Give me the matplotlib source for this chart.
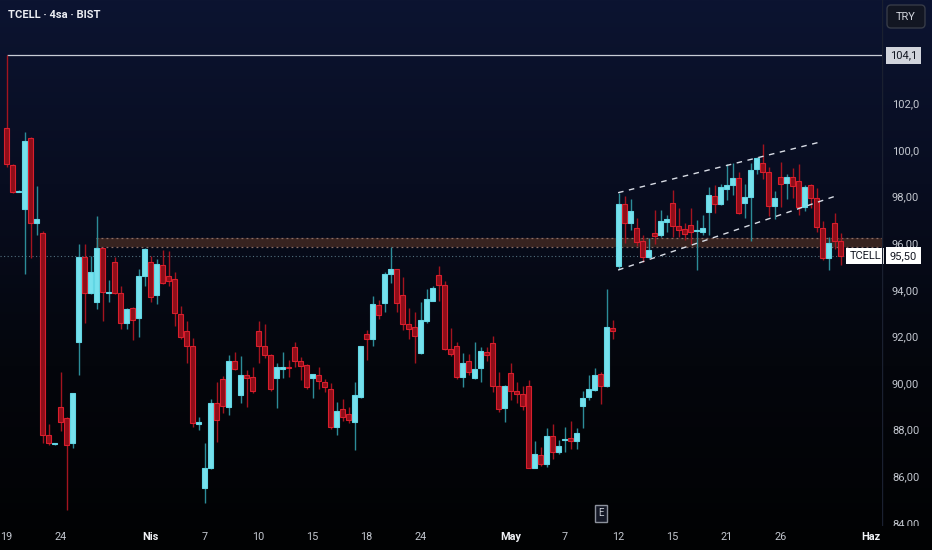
import matplotlib
matplotlib.use("Agg")
import matplotlib.pyplot as plt
import numpy as np
from matplotlib.patches import Rectangle, FancyBboxPatch
from matplotlib.colors import LinearSegmentedColormap
from matplotlib.transforms import IdentityTransform, blended_transform_factory

# ---------------- data (4h candles, TCELL BIST) ----------------
opens = [101.0, 99.4, 98.25, 97.5, 100.55, 96.9, 96.5, 87.8, 87.42, 89.0,
         88.55, 87.45, 91.8, 95.45, 93.9, 93.5, 95.85, 93.9, 95.25, 93.9,
         92.6, 93.25, 92.85, 94.65, 95.25, 93.8, 95.1, 94.65, 94.5, 93.0,
         92.27, 91.63, 88.3, 85.55, 86.4, 89.18, 90.2, 89.0, 91.0, 89.53,
         90.4, 90.3, 92.29, 91.63, 91.24, 90.26, 90.66, 90.75, 91.6, 91.0,
         90.8, 90.24, 90.39, 90.07, 89.8, 88.17, 88.93, 88.7, 88.38, 89.45,
         92.15, 91.92, 93.38, 93.46, 94.73, 94.92, 93.82, 92.56, 92.43, 91.34,
         92.69, 93.58, 94.68, 94.25, 91.49, 91.63, 90.29, 90.99, 90.24, 90.7,
         91.39, 91.75, 89.91, 88.98, 90.49, 89.71, 89.57, 89.91, 86.41, 86.95,
         86.55, 87.78, 87.09, 87.6, 87.68, 87.57, 89.07, 89.46, 89.74, 90.44,
         89.93, 92.39, 95.06, 97.73, 96.92, 96.68, 96.14, 95.46, 96.47, 96.39,
         96.97, 97.78, 96.78, 96.64, 96.82, 96.56, 96.54, 97.39, 98.08, 97.73,
         98.36, 98.54, 98.83, 97.78, 98.01, 99.21, 99.47, 99.12, 97.64, 98.9,
         98.61, 98.9, 98.73, 97.61, 98.54, 97.97, 96.68, 95.42, 96.93, 96.14]
highs = [104.1, 99.45, 98.32, 100.8, 100.6, 98.5, 96.55, 88.3, 87.47, 90.5,
         88.6, 89.6, 96.0, 96.0, 95.5, 97.2, 95.9, 94.45, 95.45, 94.2,
         93.25, 93.3, 94.95, 95.85, 95.5, 95.35, 95.75, 95.7, 94.8, 93.35,
         92.7, 91.97, 88.58, 87.47, 89.35, 90.08, 90.36, 91.24, 91.37, 91.2,
         90.6, 90.74, 92.7, 92.57, 91.3, 90.9, 91.37, 91.03, 91.8, 91.17,
         90.85, 90.45, 90.74, 90.21, 90.05, 89.24, 89.34, 89.03, 90.09, 91.65,
         92.3, 93.78, 93.6, 94.8, 95.9, 94.95, 94.6, 93.25, 93.07, 93.53,
         94.06, 94.2, 95.06, 94.4, 92.39, 91.82, 91.34, 91.3, 91.79, 91.6,
         91.6, 92.07, 90.53, 89.95, 90.89, 90.1, 89.9, 90.17, 87.55, 87.3,
         88.1, 88.28, 87.6, 88.14, 88.41, 88.1, 89.71, 90.39, 90.7, 90.5,
         94.08, 92.75, 98.18, 98.08, 97.93, 97.14, 96.4, 96.28, 97.47, 97.47,
         97.25, 98.33, 97.54, 96.9, 97.54, 97.04, 97.25, 98.44, 98.54, 98.6,
         99.43, 99.47, 99.1, 98.6, 99.47, 99.75, 100.29, 99.3, 98.3, 99.54,
         99.0, 99.26, 99.44, 98.55, 98.6, 98.4, 97.0, 96.3, 97.33, 96.5]
lows = [99.3, 98.2, 98.22, 94.7, 95.4, 96.4, 87.45, 87.4, 87.4, 88.0,
        84.6, 87.25, 90.4, 92.6, 93.85, 93.2, 92.7, 93.5, 93.85, 92.35,
        92.35, 91.9, 92.0, 94.2, 93.5, 93.45, 94.3, 94.2, 92.5, 91.95,
        90.9, 88.15, 88.03, 84.9, 86.35, 87.5, 88.77, 88.67, 90.6, 89.18,
        89.0, 89.6, 90.9, 91.1, 89.7, 88.98, 90.27, 90.31, 90.74, 90.17,
        89.8, 89.38, 89.78, 89.67, 88.07, 87.8, 88.4, 88.31, 87.17, 89.4,
        91.03, 91.63, 92.78, 93.07, 94.33, 93.1, 92.32, 91.92, 90.89, 91.3,
        92.6, 93.55, 93.58, 91.45, 91.2, 90.2, 89.88, 90.39, 90.2, 90.1,
        91.0, 89.67, 88.81, 88.36, 89.3, 89.17, 88.9, 86.4, 86.4, 86.5,
        86.45, 86.8, 87.0, 87.09, 87.2, 87.2, 88.13, 89.3, 89.7, 89.13,
        89.85, 91.93, 94.92, 96.04, 96.6, 95.93, 95.25, 95.4, 96.0, 96.3,
        96.54, 96.33, 96.3, 96.2, 95.99, 94.9, 96.4, 96.39, 97.33, 97.7,
        97.9, 98.1, 97.3, 97.11, 96.15, 99.0, 98.8, 97.21, 97.1, 97.58,
        97.95, 98.0, 97.24, 97.41, 97.55, 96.54, 95.32, 94.9, 95.8, 95.1]
closes = [99.45, 98.25, 98.3, 100.45, 96.9, 97.1, 87.8, 87.45, 87.45, 88.35,
          87.4, 89.6, 95.45, 93.9, 94.8, 95.85, 93.95, 93.95, 93.9, 92.6,
          93.2, 92.75, 94.65, 95.8, 93.75, 95.15, 94.35, 94.4, 93.05, 92.0,
          91.63, 88.33, 88.35, 86.4, 89.18, 88.45, 89.07, 91.0, 90.64, 90.39,
          90.26, 89.71, 91.64, 91.24, 89.79, 90.73, 90.74, 90.7, 91.0, 90.79,
          89.88, 90.43, 90.14, 89.88, 88.14, 88.82, 88.57, 88.45, 89.51, 91.63,
          91.92, 93.43, 92.96, 94.73, 94.92, 93.49, 92.58, 92.37, 92.06, 92.75,
          93.64, 94.13, 94.24, 91.49, 91.29, 90.29, 90.92, 90.53, 90.63, 91.43,
          91.26, 89.93, 88.93, 89.91, 89.7, 89.58, 89.07, 86.41, 87.0, 86.55,
          87.78, 87.09, 87.35, 87.65, 87.54, 87.91, 89.38, 89.79, 90.39, 89.93,
          92.43, 92.27, 97.73, 96.92, 97.42, 96.11, 95.46, 95.75, 96.35, 97.0,
          97.07, 96.79, 96.61, 96.43, 96.54, 96.6, 96.68, 98.11, 97.73, 98.44,
          98.54, 98.83, 97.33, 98.01, 99.18, 99.71, 99.12, 97.65, 97.98, 98.57,
          98.9, 98.5, 97.61, 98.47, 97.97, 96.73, 95.42, 96.04, 96.15, 95.5]

# x-axis: 3 candles per trading day; tick at first candle of the day
tick_days = [0, 3, 8, 11, 14, 17, 20, 23, 28, 31, 34, 37, 40, 43, 48]
tick_labels = ["19", "24", "Nis", "7", "10", "15", "18", "24", "May", "7",
               "12", "15", "21", "26", "Haz"]
month_labels = {"Nis", "May", "Haz"}
candles_per_day = 3

price_ticks = [84, 86, 88, 90, 92, 94, 96, 98, 100, 102]
price_tick_labels = ["84,00", "86,00", "88,00", "90,00", "92,00", "94,00",
                     "96,00", "98,00", "100,0", "102,0"]

high_level = 104.1
high_level_label = "104,1"
zone_low, zone_high = 95.88, 96.28
zone_start = 15
last_label = "95,50"
symbol = "TCELL"

# ascending channel (index, price)
chan_upper_x = [101.9, 135.8]
chan_upper_y = [98.21, 100.4]
chan_lower_x = [101.9, 138.3]
chan_lower_y = [94.89, 98.08]

earnings_idx = 99

# ---------------- figure ----------------
W, H = 932, 550
plt.rcParams['font.family'] = ['Roboto', 'DejaVu Sans']
fig = plt.figure(figsize=(W / 100, H / 100), dpi=100)

bg = fig.add_axes([0, 0, 1, 1])
bg.axis('off')
grad = np.linspace(0, 1, 256)[:, None]
cmap = LinearSegmentedColormap.from_list('bg', ['#0c1431', '#080d20', '#04060c', '#010203'])
bg.imshow(grad, aspect='auto', cmap=cmap, extent=[0, 1, 0, 1])
bg.set_xlim(0, 1); bg.set_ylim(0, 1)

AX_R = 882
AX_B = 28
PX_PER_UNIT = 23.3
ax = fig.add_axes([0, AX_B / H, AX_R / W, (H - AX_B) / H])
ax.patch.set_alpha(0)
x0_px, step_px = 6.7, 6.0
xmin = (0 - x0_px) / step_px
xmax = (AX_R - x0_px) / step_px
ax.set_xlim(xmin, xmax)
ymax = 100 + 151 / PX_PER_UNIT
ymin = 100 - (H - AX_B - 151) / PX_PER_UNIT
ax.set_ylim(ymin, ymax)
for s in ax.spines.values():
    s.set_visible(False)

n = len(opens)
idx = np.arange(n)

# zone
ax.add_patch(Rectangle((zone_start - 0.1, zone_low), xmax - zone_start + 0.1,
                       zone_high - zone_low, facecolor='#3a2521', edgecolor='none',
                       alpha=0.95, zorder=1))
for lv in (zone_low, zone_high):
    ax.hlines(lv, zone_start - 0.1, xmax, colors='#8c6e66', lw=0.9,
              linestyles=(0, (1.5, 2.5)), zorder=1.1)

# current price dotted line
ax.axhline(closes[-1], color='#52707e', lw=0.8, ls=(0, (1, 2.2)), zorder=1.2)

# high level line
ax.hlines(high_level, 0, xmax, colors='#c8ccd6', lw=0.9, zorder=1.3)

# candles
bw = 0.8
for i in idx:
    o, h, l, c = opens[i], highs[i], lows[i], closes[i]
    up = c >= o
    wick = '#2c8c98' if up else '#a3141f'
    fc = '#76e1ed' if up else '#8e0e19'
    ec = '#62d6e4' if up else '#d81f2d'
    ax.vlines(i, l, h, colors=wick, lw=1.0, zorder=2)
    bot = min(o, c)
    hgt = max(abs(c - o), 0.05)
    ax.add_patch(Rectangle((i - bw / 2, bot), bw, hgt, facecolor=fc,
                           edgecolor=ec, lw=0.8, zorder=3))

# channel
ax.plot(chan_upper_x, chan_upper_y, color='#d9dde6', lw=1.0, ls=(0, (4, 4)), zorder=4)
ax.plot(chan_lower_x, chan_lower_y, color='#d9dde6', lw=1.0, ls=(0, (4, 4)), zorder=4)

# x ticks
ax.set_yticks([])
ax.set_xticks([d * candles_per_day for d in tick_days])
ax.set_xticklabels(tick_labels)
ax.tick_params(axis='x', length=0, pad=7, labelsize=7.8, labelcolor='#c3c7cf')
for t in ax.get_xticklabels():
    if t.get_text() in month_labels:
        t.set_fontweight('bold')
        t.set_color('#f0f2f6')

# earnings marker
tr_e = blended_transform_factory(ax.transData, ax.transAxes)
ax.text(earnings_idx, 0.017, "E", transform=tr_e, ha='center', va='center',
        fontsize=7, color='#c8ccd4', zorder=6,
        bbox=dict(boxstyle='square,pad=0.35', facecolor='#141826',
                  edgecolor='#8c919c', lw=1.0))

# TCELL label
ax.text(xmax - 0.15, closes[-1], symbol, ha='right', va='center', fontsize=8,
        color='#131722', zorder=7, clip_on=False,
        bbox=dict(boxstyle='square,pad=0.3', facecolor='#ffffff', edgecolor='none'))

# price scale (slightly taller clip region than the pane, same scale)
AX2_B = 24
ax2 = fig.add_axes([AX_R / W, AX2_B / H, (W - AX_R) / W, (H - AX2_B) / H])
ax2.patch.set_alpha(0)
ax2.set_ylim(100 - (H - AX2_B - 151) / PX_PER_UNIT, ymax)
ax2.set_xlim(0, 1)
ax2.set_xticks([]); ax2.set_yticks([])
for k, s in ax2.spines.items():
    s.set_visible(False)
ax2.axvline(0, color='#1a2030', lw=1.0)
tr2 = blended_transform_factory(ax2.transAxes, ax2.transData)
for v, lab in zip(price_ticks, price_tick_labels):
    ax2.text(0.2, v, lab, transform=tr2, ha='left', va='center', fontsize=8,
             color='#c3c7cf', clip_on=True)
ax2.text(0.16, high_level, high_level_label, transform=tr2, ha='left', va='center',
         fontsize=8, color='#131722',
         bbox=dict(boxstyle='square,pad=0.32', facecolor='#d1d4dc', edgecolor='none'))
ax2.text(0.16, closes[-1], last_label, transform=tr2, ha='left', va='center',
         fontsize=8, color='#131722', zorder=5,
         bbox=dict(boxstyle='square,pad=0.32', facecolor='#ffffff', edgecolor='none'))

# title
fig.text(8 / W, 1 - 14.5 / H, "TCELL · 4sa · BIST", color='#eceef3', fontsize=8,
         fontweight='bold', ha='left', va='center')

# TRY button
btn = FancyBboxPatch((887, H - 28), 38, 23,
                     boxstyle='round,pad=0,rounding_size=4',
                     transform=IdentityTransform(), facecolor='#121622',
                     edgecolor='#363b47', lw=1.0)
fig.add_artist(btn)
fig.text(906 / W, 1 - 16.5 / H, "TRY", color='#d1d4dc', fontsize=8,
         ha='center', va='center')

fig.savefig('out.png', dpi=100)
